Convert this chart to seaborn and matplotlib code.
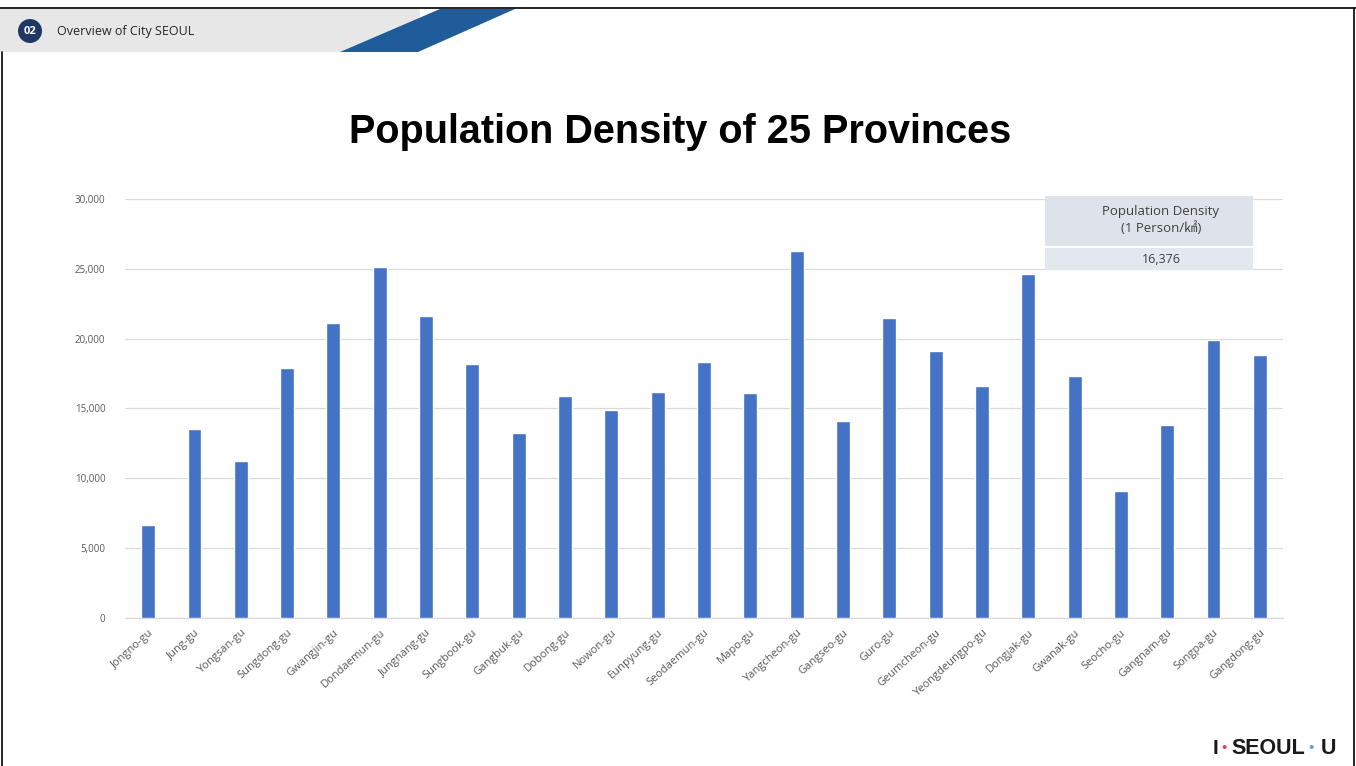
import matplotlib
matplotlib.use("Agg")
import matplotlib.pyplot as plt
import matplotlib.patches as mpatches
from matplotlib.lines import Line2D
from matplotlib.ticker import FuncFormatter
import seaborn as sns
import pandas as pd

# District names and population density (persons per km²)
districts = [
    "Jongno-gu", "Jung-gu", "Yongsan-gu", "Sungdong-gu", "Gwangjin-gu",
    "Dondaemun-gu", "Jungnang-gu", "Sungbook-gu", "Gangbuk-gu", "Dobong-gu",
    "Nowon-gu", "Eunpyung-gu", "Seodaemun-gu", "Mapo-gu", "Yangcheon-gu",
    "Gangseo-gu", "Guro-gu", "Geumcheon-gu", "Yeongdeungpo-gu", "Dongjak-gu",
    "Gwanak-gu", "Seocho-gu", "Gangnam-gu", "Songpa-gu", "Gangdong-gu",
]
density = [
    6600, 13500, 11200, 17900, 21100,
    25100, 21600, 18200, 13200, 15900,
    14900, 16200, 18300, 16100, 26300,
    14100, 21500, 19100, 16600, 24600,
    17300, 9100, 13800, 19900, 18800,
]
average_density = 16376
y_ticks = [0, 5000, 10000, 15000, 20000, 25000, 30000]

title = "Population Density of 25 Provinces"
section_no = "02"
section_title = "Overview of City SEOUL"
table_header = "Population Density\n(1 Person/㎢)"

sns.set_theme(style="white")
plt.rcParams["font.family"] = ["Open Sans", "DejaVu Sans", "Noto Sans CJK KR"]

df = pd.DataFrame({"district": districts, "density": density})

W, H = 1356, 766
fig = plt.figure(figsize=(W / 100, H / 100), dpi=100)
fig.patch.set_facecolor("white")

def fx(px):
    return px / W

def fy(py):
    return 1 - py / H

ax = fig.add_axes([fx(125), fy(617.5), fx(1283) - fx(125), fy(199) - fy(617.5)])

sns.barplot(data=df, x="district", y="density", color="#4472C4",
            saturation=1, width=0.3, ax=ax, zorder=3)

ax.set_ylim(0, 30000)
ax.set_xlim(-0.5, len(districts) - 0.5)
ax.set_yticks(y_ticks)
ax.yaxis.set_major_formatter(FuncFormatter(lambda v, p: f"{int(v):,}"))
ax.grid(axis="y", color="#D9D9D9", linewidth=0.9, zorder=0)
ax.set_axisbelow(True)
for s in ["top", "right", "left"]:
    ax.spines[s].set_visible(False)
ax.spines["bottom"].set_color("#D9D9D9")
ax.spines["bottom"].set_linewidth(0.9)
ax.set_xlabel("")
ax.set_ylabel("")
ax.tick_params(axis="y", length=0, pad=14, labelsize=7, labelcolor="#595959")
ax.tick_params(axis="x", length=0, pad=7, labelsize=8, labelcolor="#595959")
ax.set_facecolor("none")
for lab in ax.get_xticklabels():
    lab.set_rotation(42)
    lab.set_ha("right")
    lab.set_rotation_mode("anchor")

# Title
fig.text(fx(680), fy(132), title, ha="center", va="center", fontsize=28.5,
         fontweight="bold", color="black", family=["Liberation Sans", "DejaVu Sans"])

# Summary table in the upper right corner
tbl_left, tbl_right = 1045, 1253
hdr = mpatches.Rectangle((fx(tbl_left), fy(246)), fx(tbl_right) - fx(tbl_left),
                         fy(196) - fy(246), transform=fig.transFigure,
                         facecolor="#DEE3EB", edgecolor="none", zorder=5)
val = mpatches.Rectangle((fx(tbl_left), fy(270)), fx(tbl_right) - fx(tbl_left),
                         fy(248) - fy(270), transform=fig.transFigure,
                         facecolor="#E3E7EE", edgecolor="none", zorder=5)
fig.patches.extend([hdr, val])
fig.text(fx(1161), fy(220), table_header, ha="center", va="center", fontsize=9.5,
         color="#404040", linespacing=1.25, zorder=6,
         family=["Open Sans", "Noto Sans CJK KR"])
fig.text(fx(1161), fy(259), f"{average_density:,}", ha="center", va="center",
         fontsize=9, color="#404040", zorder=6)

# Header band
band = mpatches.Rectangle((0, fy(52)), fx(420), fy(9) - fy(52),
                          transform=fig.transFigure, facecolor="#E7E7E7",
                          edgecolor="none", zorder=1)
stripe = mpatches.Polygon([(fx(340), fy(52)), (fx(418), fy(52)),
                           (fx(515), fy(9)), (fx(440), fy(9))],
                          closed=True, transform=fig.transFigure,
                          facecolor="#1F5C99", edgecolor="none", zorder=2)
fig.patches.extend([band, stripe])
badge = mpatches.Ellipse((fx(30), fy(31)), fx(24), fy(7) - fy(31),
                         transform=fig.transFigure, facecolor="#1F3864",
                         edgecolor="none", zorder=3)
fig.patches.append(badge)
fig.text(fx(30), fy(31.5), section_no, ha="center", va="center", fontsize=8,
         fontweight="bold", color="white", zorder=4)
fig.text(fx(57), fy(31), section_title, ha="left", va="center", fontsize=9,
         color="#262626", zorder=4)

# Page frame
fig.lines.extend([
    Line2D([0, 1], [fy(8), fy(8)], transform=fig.transFigure, color="black", lw=1.2),
    Line2D([fx(2), fx(2)], [fy(52), 0], transform=fig.transFigure, color="black", lw=1.2),
    Line2D([fx(1354), fx(1354)], [fy(8), 0], transform=fig.transFigure, color="black", lw=1.2),
])

# Logo
logo_y = fy(748)
logo_font = ["Liberation Sans", "DejaVu Sans"]
fig.text(fx(1213), logo_y, "I", ha="left", va="center", fontsize=15,
         fontweight="bold", color="#1A1A1A", family=logo_font)
fig.text(fx(1221), logo_y, "•", ha="left", va="center", fontsize=11,
         color="#E0445B", family=logo_font)
fig.text(fx(1231), logo_y, "SEOUL", ha="left", va="center", fontsize=15.5,
         fontweight="bold", color="#1A1A1A", family=logo_font)
fig.text(fx(1308), logo_y, "•", ha="left", va="center", fontsize=11,
         color="#5BA4CF", family=logo_font)
fig.text(fx(1321), logo_y, "U", ha="left", va="center", fontsize=15.5,
         fontweight="bold", color="#1A1A1A", family=logo_font)

fig.savefig("out.png", dpi=100, facecolor="white")
